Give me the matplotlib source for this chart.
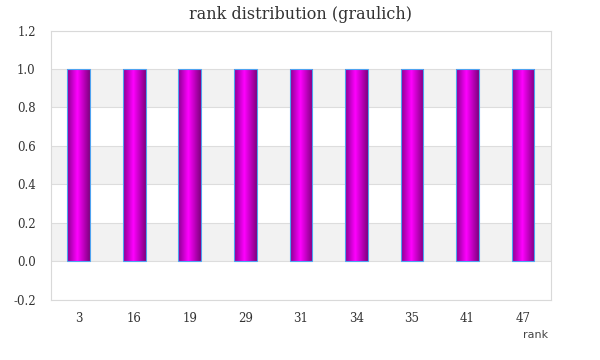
import numpy as np
import matplotlib
matplotlib.use("Agg")
import matplotlib.pyplot as plt
from matplotlib.colors import LinearSegmentedColormap

ranks = ["3", "16", "19", "29", "31", "34", "35", "41", "47"]
counts = [1, 1, 1, 1, 1, 1, 1, 1, 1]

fig = plt.figure(figsize=(6, 3.6), dpi=100)
ax = fig.add_axes([0.085, 0.168, 0.833, 0.747])

x = np.arange(len(ranks))
ax.set_xlim(-0.5, len(ranks) - 0.5)
ax.set_ylim(-0.2, 1.2)

# alternating bands
for lo in [0.8, 0.4, 0.0]:
    ax.axhspan(lo, lo + 0.2, color="#f2f2f2", zorder=0, lw=0)
ax.set_yticks(np.arange(-0.2, 1.21, 0.2))
ax.yaxis.grid(True, color="#dddddd", lw=0.8, zorder=1)
ax.set_axisbelow(True)

cmap = LinearSegmentedColormap.from_list(
    "mag", [(0, "#8a0090"), (0.45, "#ff00ff"), (1, "#800080")])
grad = np.linspace(0, 1, 64).reshape(1, -1)

w = 0.41
bars = ax.bar(x, counts, width=w, color="none", edgecolor="#4fa3f0", lw=0.8, zorder=3)
for b in bars:
    x0, y0 = b.get_x(), b.get_y()
    im = ax.imshow(grad, cmap=cmap, aspect="auto", zorder=2,
                   extent=[x0, x0 + b.get_width(), y0, y0 + b.get_height()])
    im.set_clip_path(b)

ax.set_xticks(x)
ax.set_xticklabels(ranks)
ax.set_yticklabels(["%.1f" % v for v in np.arange(-0.2, 1.21, 0.2)])
for lab in ax.get_xticklabels() + ax.get_yticklabels():
    lab.set_family("DejaVu Serif")
    lab.set_fontsize(8.5)
    lab.set_color("#333333")
ax.tick_params(length=0, pad=9)
ax.tick_params(axis="y", pad=11)

for s in ax.spines.values():
    s.set_color("#d9d9d9")

ax.set_title("rank distribution (graulich)", family="DejaVu Serif", fontsize=11.5,
             color="#333333", pad=8)
fig.text(0.913, 0.069, "rank", ha="right", va="center", fontsize=8,
         color="#444444", family="DejaVu Sans")

fig.savefig("out.png", dpi=100)
